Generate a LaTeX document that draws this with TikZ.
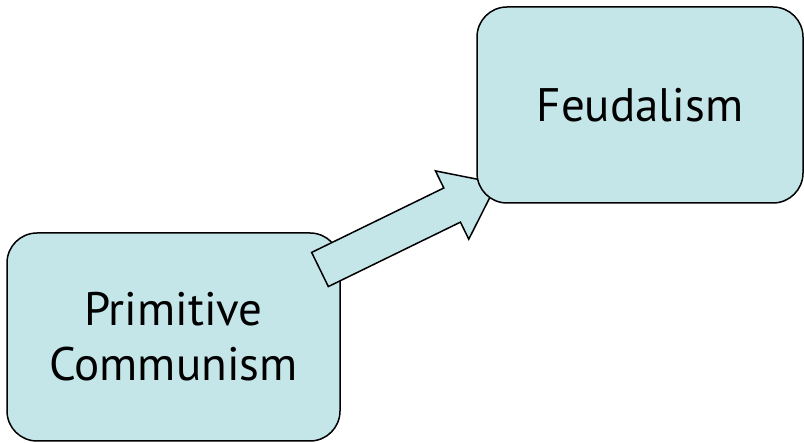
\documentclass[tikz,border=0pt]{standalone}
\usepackage{fontspec}
\setmainfont{PT Sans}
\definecolor{boxcol}{RGB}{197,230,233}
\begin{document}
\begin{tikzpicture}[x=1pt,y=-1pt,
  box/.style={draw=black, line width=1.5pt, fill=boxcol, rounded corners=30pt,
    align=center, inner sep=0pt, font=\fontsize{47}{55}\selectfont},
  blockarrow/.style={draw=black, line width=1.5pt, fill=boxcol, line join=miter}]
\useasboundingbox (0,0) rectangle (804,443);
\node[box, minimum width=333pt, minimum height=208pt] (pc) at (173.5,337) {Primitive\\Communism};
\coordinate (tail) at (320,269.5);
\coordinate (tip) at (497,183);
\begin{scope}[shift={(tail)}, rotate=26, x=1pt, y=1pt]
  \draw[blockarrow] (0,-19) -- (147,-19) -- (147,-38) -- (197,0) -- (147,38) -- (147,19) -- (0,19) -- cycle;
\end{scope}
\node[box, minimum width=326pt, minimum height=196pt] (fe) at (640,105) {Feudalism};
\end{tikzpicture}
\end{document}
